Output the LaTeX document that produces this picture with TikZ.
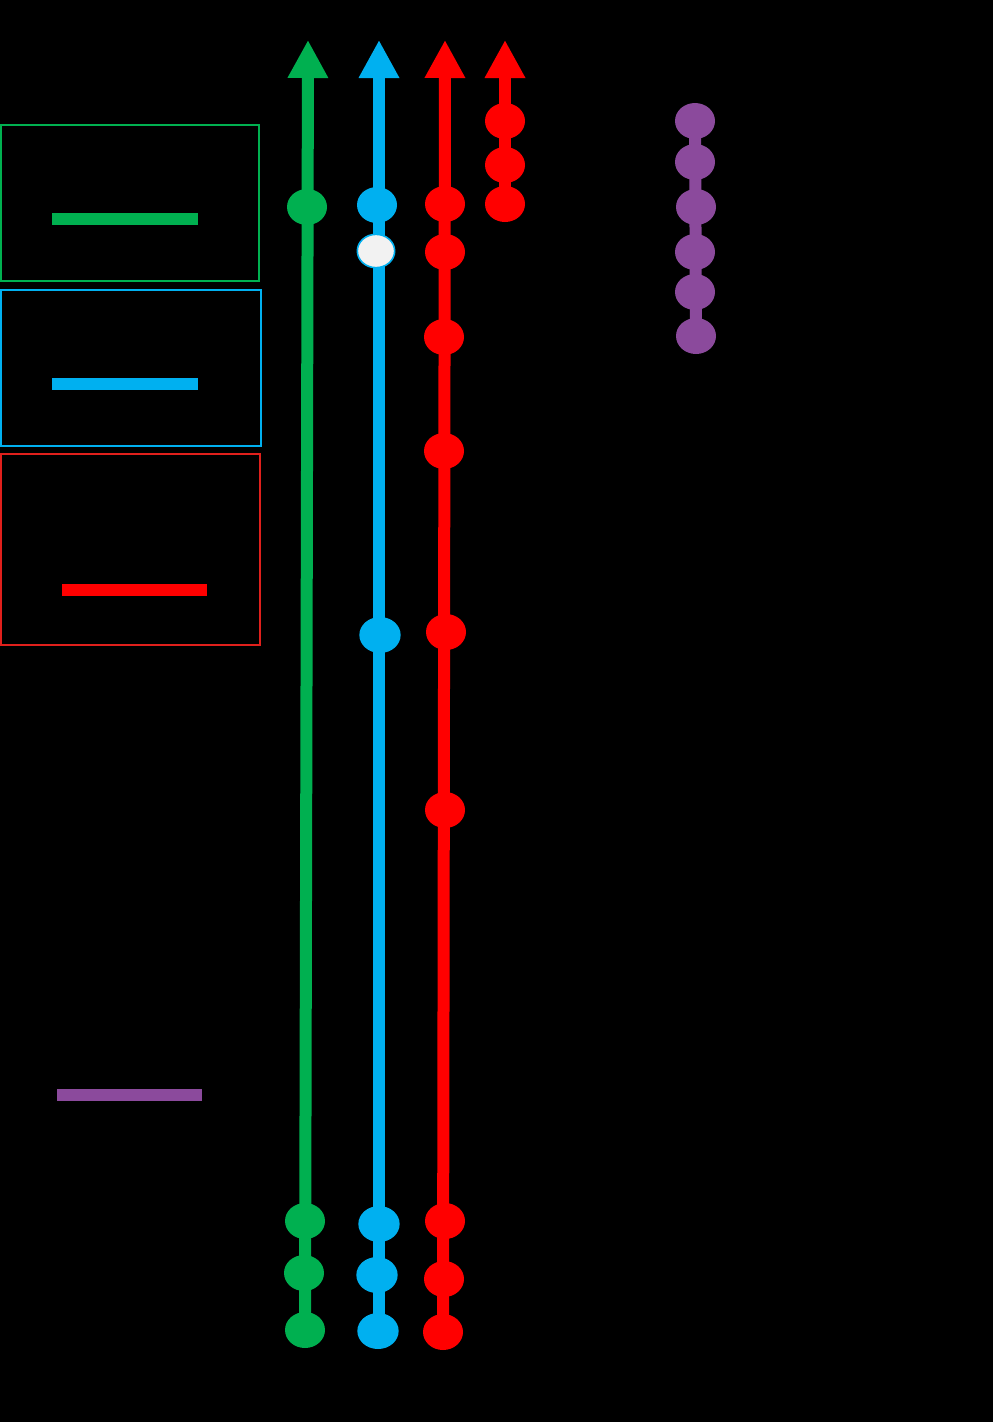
\documentclass[tikz,border=0pt]{standalone}
\usetikzlibrary{arrows.meta,shapes.geometric}
\definecolor{cgreen}{HTML}{00B050}
\definecolor{cblue}{HTML}{00B0F0}
\definecolor{cred}{HTML}{FF0000}
\definecolor{cboxred}{HTML}{E0201C}
\definecolor{cpurple}{HTML}{8B4A9C}
\definecolor{cwhite}{HTML}{F2F2F2}
\pgfdeclarelayer{bglayer}
\pgfdeclarelayer{tracklayer}
\pgfsetlayers{bglayer,tracklayer,main}
\tikzset{
  dot/.style={ellipse,minimum width=30pt,minimum height=27pt,inner sep=0pt,draw=none},
  track/.style={line width=9pt},
  arrowtrack/.style={line width=9pt,-{Triangle[width=28.5pt,length=28.5pt]}},
  legendbox/.style={line width=1.5pt}
}
\begin{document}
\begin{tikzpicture}[x=0.75pt,y=-0.75pt]
\begin{pgfonlayer}{bglayer}
\fill[black] (0,0) rectangle (993,1422);
\end{pgfonlayer}
\useasboundingbox (0,0) rectangle (993,1422);

% legend boxes
\draw[legendbox,cgreen] (1,125) rectangle (259,281);
\fill[cgreen] (52,213) rectangle (198,225);
\draw[legendbox,cblue] (1,290) rectangle (261,446);
\fill[cblue] (52,378) rectangle (198,390);
\draw[legendbox,cboxred] (1,454) rectangle (260,645);
\fill[cred] (62,584) rectangle (207,596);
\fill[cpurple] (57,1089) rectangle (202,1101);

% arrow tops
\coordinate (gtop) at (308,40);
\coordinate (btop) at (379,40);
\coordinate (rtop) at (445,40);
\coordinate (r2top) at (505,40);

% green nodes
\node[dot,fill=cgreen] (g0) at (307,207) {};
\node[dot,fill=cgreen] (g1) at (305,1221) {};
\node[dot,fill=cgreen] (g2) at (304,1273) {};
\node[dot,fill=cgreen] (g3) at (305,1330) {};
% blue nodes
\node[dot,fill=cblue] (b0) at (377,205) {};
\node[dot,fill=cwhite,draw=cblue,line width=1.2pt,minimum width=28pt,minimum height=25pt] (b1) at (376,251) {};
\node[dot,fill=cblue,minimum width=31pt] (b2) at (380,635) {};
\node[dot,fill=cblue,minimum width=31pt] (b3) at (379,1224) {};
\node[dot,fill=cblue,minimum width=31pt] (b4) at (377,1275) {};
\node[dot,fill=cblue,minimum width=31pt] (b5) at (378,1331) {};
% red nodes
\node[dot,fill=cred] (r0) at (445,204) {};
\node[dot,fill=cred] (r1) at (445,252) {};
\node[dot,fill=cred] (r2) at (444,337) {};
\node[dot,fill=cred] (r3) at (444,451) {};
\node[dot,fill=cred] (r4) at (446,632) {};
\node[dot,fill=cred] (r5) at (445,810) {};
\node[dot,fill=cred] (r6) at (445,1221) {};
\node[dot,fill=cred] (r7) at (444,1279) {};
\node[dot,fill=cred] (r8) at (443,1332) {};
% short red
\node[dot,fill=cred] (s0) at (505,121) {};
\node[dot,fill=cred] (s1) at (505,165) {};
\node[dot,fill=cred] (s2) at (505,204) {};
% purple
\node[dot,fill=cpurple] (p0) at (695,121) {};
\node[dot,fill=cpurple] (p1) at (695,162) {};
\node[dot,fill=cpurple] (p2) at (696,207) {};
\node[dot,fill=cpurple] (p3) at (695,252) {};
\node[dot,fill=cpurple] (p4) at (695,292) {};
\node[dot,fill=cpurple] (p5) at (696,336) {};

% tracks behind the dots
\begin{pgfonlayer}{tracklayer}
\draw[arrowtrack,cgreen] (g3.center) -- (gtop);
\draw[arrowtrack,cblue] (b5.center |- b5.center) ++(1,0) -- (btop);
\draw[arrowtrack,cred] (r8.center) -- (rtop);
\draw[arrowtrack,cred] (s2.center) -- (r2top);
\draw[track,cpurple] (p0.center) -- (p5.center);
\end{pgfonlayer}
\end{tikzpicture}
\end{document}
